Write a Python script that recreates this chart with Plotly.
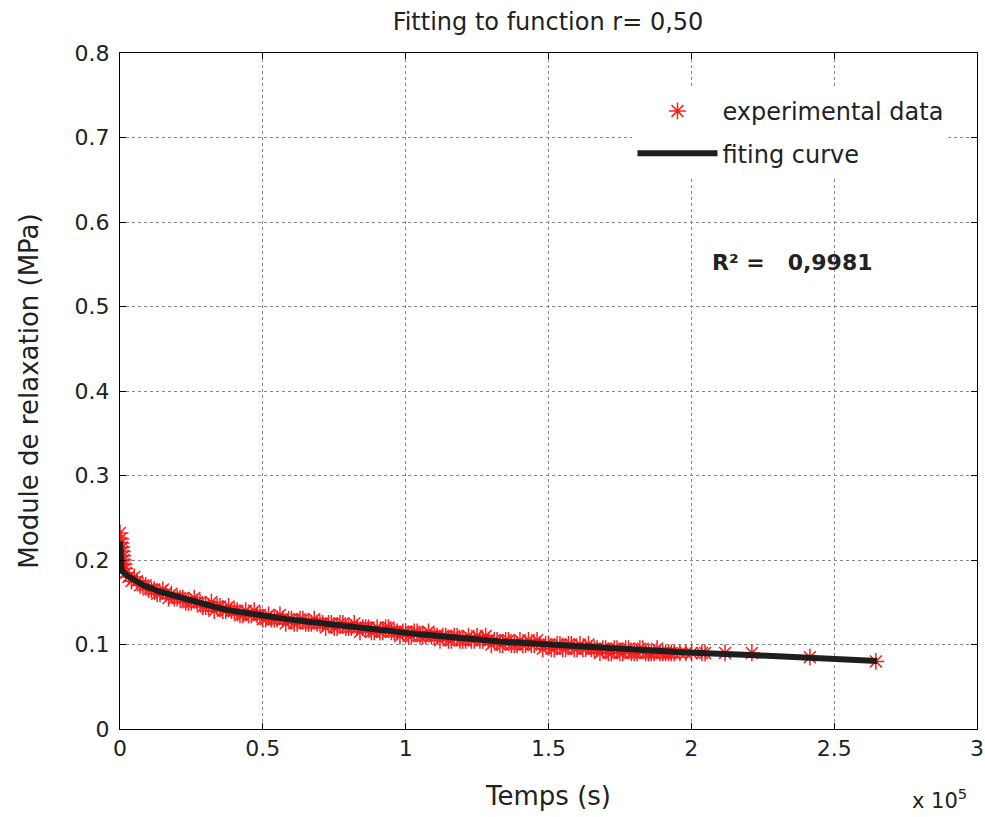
import plotly.graph_objects as go

t_exp = [0, 200, 400, 600, 800, 1000, 1200, 1400, 1600,
         2000, 4000, 6000, 8000, 10000, 12000, 14000, 16000, 18000, 20000,
         22000, 24000, 26000, 28000, 30000, 32000, 34000, 36000, 38000, 40000,
         42000, 44000, 46000, 48000, 50000, 52000, 54000, 56000, 58000, 60000,
         62000, 64000, 66000, 68000, 70000, 72000, 74000, 76000, 78000, 80000,
         82000, 84000, 86000, 88000, 90000, 92000, 94000, 96000, 98000, 100000,
         102000, 104000, 106000, 108000, 110000, 112000, 114000, 116000, 118000, 120000,
         122000, 124000, 126000, 128000, 130000, 132000, 134000, 136000, 138000, 140000,
         142000, 144000, 146000, 148000, 150000, 152000, 154000, 156000, 158000, 160000,
         162000, 164000, 166000, 168000, 170000, 172000, 174000, 176000, 178000, 180000,
         182000, 184000, 186000, 188000, 190000, 192000, 194000,
         196000, 198100, 200100, 203700, 204800, 211800, 221200, 241500, 264600]
g_exp = [0.232, 0.225, 0.22, 0.215, 0.21, 0.205, 0.2, 0.195, 0.19,
         0.185, 0.175, 0.175, 0.17, 0.165, 0.165, 0.16, 0.16, 0.16, 0.155,
         0.155, 0.15, 0.155, 0.15, 0.145, 0.15, 0.145, 0.14, 0.145, 0.14,
         0.135, 0.14, 0.135, 0.135, 0.13, 0.135, 0.13, 0.135, 0.125, 0.13,
         0.125, 0.13, 0.125, 0.13, 0.125, 0.12, 0.125, 0.12, 0.125, 0.12,
         0.125, 0.115, 0.12, 0.115, 0.12, 0.115, 0.12, 0.115, 0.11, 0.115,
         0.11, 0.115, 0.11, 0.115, 0.11, 0.105, 0.11, 0.105, 0.11, 0.105,
         0.11, 0.105, 0.105, 0.11, 0.1, 0.105, 0.1, 0.105, 0.1, 0.105,
         0.1, 0.1, 0.105, 0.095, 0.1, 0.095, 0.1, 0.095, 0.1, 0.095,
         0.095, 0.1, 0.095, 0.09, 0.095, 0.09, 0.095, 0.09, 0.095, 0.09,
         0.095, 0.09, 0.09, 0.095, 0.09, 0.09, 0.09,
         0.09, 0.09, 0.09, 0.09, 0.09, 0.09, 0.09, 0.085, 0.08]

# Interleaved experimental samples (odd thousands of seconds)
t_exp2 = [3000, 5000, 7000, 9000, 11000, 13000, 15000, 17000, 19000, 21000,
          23000, 25000, 27000, 29000, 31000, 33000, 35000, 37000, 39000, 41000,
          43000, 45000, 47000, 49000, 51000, 53000, 55000, 57000, 59000, 61000,
          63000, 65000, 67000, 69000, 71000, 73000, 75000, 77000, 79000, 81000,
          83000, 85000, 87000, 89000, 91000, 93000, 95000, 97000, 99000, 101000,
          103000, 105000, 107000, 109000, 111000, 113000, 115000, 117000, 119000, 121000,
          123000, 125000, 127000, 129000, 131000, 133000, 135000, 137000, 139000, 141000,
          143000, 145000, 147000, 149000, 151000, 153000, 155000, 157000, 159000, 161000,
          163000, 165000, 167000, 169000, 171000, 173000, 175000, 177000, 179000, 181000,
          183000, 185000, 187000, 189000, 191000, 193000]
g_exp2 = [0.18, 0.18, 0.17, 0.17, 0.165, 0.16, 0.165, 0.155, 0.155, 0.155,
          0.15, 0.15, 0.15, 0.145, 0.145, 0.14, 0.145, 0.14, 0.14, 0.14,
          0.135, 0.135, 0.14, 0.135, 0.13, 0.13, 0.13, 0.13, 0.13, 0.125,
          0.13, 0.125, 0.125, 0.125, 0.125, 0.125, 0.12, 0.125, 0.12, 0.12,
          0.12, 0.12, 0.12, 0.115, 0.115, 0.12, 0.115, 0.115, 0.115, 0.11,
          0.115, 0.11, 0.11, 0.11, 0.11, 0.11, 0.105, 0.11, 0.105, 0.105,
          0.105, 0.11, 0.105, 0.105, 0.105, 0.1, 0.105, 0.1, 0.1, 0.1,
          0.105, 0.1, 0.1, 0.1, 0.095, 0.1, 0.095, 0.1, 0.095, 0.1,
          0.095, 0.095, 0.095, 0.095, 0.09, 0.095, 0.09, 0.095, 0.09, 0.09,
          0.095, 0.09, 0.09, 0.09, 0.09, 0.09]

# Fitting curve
t_fit = [0, 100, 500, 2300, 8200, 14000, 19800, 25700, 31500, 37300, 46700,
         58300, 70000, 81700, 93300, 105000, 133000, 168000, 179600, 198400,
         220500, 241500, 265000]
g_fit = [0.222, 0.193, 0.188, 0.182, 0.170, 0.1625, 0.1566, 0.151, 0.146, 0.141,
         0.1356, 0.130, 0.1255, 0.121, 0.1165, 0.112, 0.1035, 0.096, 0.0935,
         0.0905, 0.0876, 0.0835, 0.0805]

x_tickvals = [0, 50000, 100000, 150000, 200000, 250000, 300000]
x_ticktext = ["0", "0.5", "1", "1.5", "2", "2.5", "3"]
y_tickvals = [0, 0.1, 0.2, 0.3, 0.4, 0.5, 0.6, 0.7, 0.8]
y_ticktext = ["0", "0.1", "0.2", "0.3", "0.4", "0.5", "0.6", "0.7", "0.8"]

FONT = "DejaVu Sans, Liberation Sans, Arial, sans-serif"
TXT = "#222222"

t_all = t_exp + t_exp2
g_all = g_exp + g_exp2

fig = go.Figure()
fig.add_trace(go.Scatter(
    x=t_all, y=g_all, mode="markers", name="experimental data",
    marker=dict(symbol="asterisk-open", size=14, color="#ff1a1a",
                line=dict(color="#ff1a1a", width=1.5)),
    legendgroup="a",
))
fig.add_trace(go.Scatter(
    x=t_fit, y=g_fit, mode="lines", name="fiting curve",
    line=dict(color="#1e1e1e", width=6), legendgroup="b",
))

axis_common = dict(
    showline=True, linecolor="black", linewidth=1, mirror="ticks",
    ticks="inside", ticklen=6, tickcolor="black",
    showgrid=True, gridcolor="#8a8a8a", griddash="dot", gridwidth=1,
    zeroline=False, tickfont=dict(family=FONT, size=22, color=TXT),
    ticklabeloverflow="allow",
)

fig.update_xaxes(range=[0, 300000], tickvals=x_tickvals, ticktext=x_ticktext,
                 title=dict(text="Temps (s)", font=dict(family=FONT, size=26, color=TXT),
                            standoff=26),
                 **axis_common)
fig.update_yaxes(range=[0, 0.8], tickvals=y_tickvals, ticktext=y_ticktext,
                 ticklabelstandoff=5,
                 title=dict(text="Module de relaxation (MPa)",
                            font=dict(family=FONT, size=26, color=TXT), standoff=28),
                 **axis_common)

fig.update_layout(
    width=985, height=817,
    margin=dict(l=120, r=8, t=53, b=88, autoexpand=False),
    paper_bgcolor="white", plot_bgcolor="white",
    title=dict(text="Fitting to function r= 0,50", x=548 / 985, xanchor="center",
               y=1 - 22 / 817, yanchor="middle",
               font=dict(family=FONT, size=24, color=TXT)),
    legend=dict(x=0.598, y=0.947, xanchor="left", yanchor="top",
                bgcolor="white", borderwidth=0, itemwidth=80,
                font=dict(family=FONT, size=24, color=TXT),
                tracegroupgap=8, traceorder="grouped"),
    showlegend=True,
)

fig.add_annotation(text="<b>R² =   0,9981</b>", xref="paper", yref="paper",
                   x=(710 - 120) / 857, y=(729 - 262) / 676, xanchor="left", yanchor="middle",
                   showarrow=False, font=dict(family=FONT, size=22, color=TXT))
fig.add_annotation(text="x 10<sup>5</sup>", xref="paper", yref="paper",
                   x=(910 - 120) / 857, y=(729 - 799) / 676, xanchor="left", yanchor="middle",
                   showarrow=False, font=dict(family=FONT, size=21, color=TXT))

fig.write_html("out.html", config={"displayModeBar": False},
               post_script="document.body.style.margin='0';document.body.style.overflow='hidden';")
